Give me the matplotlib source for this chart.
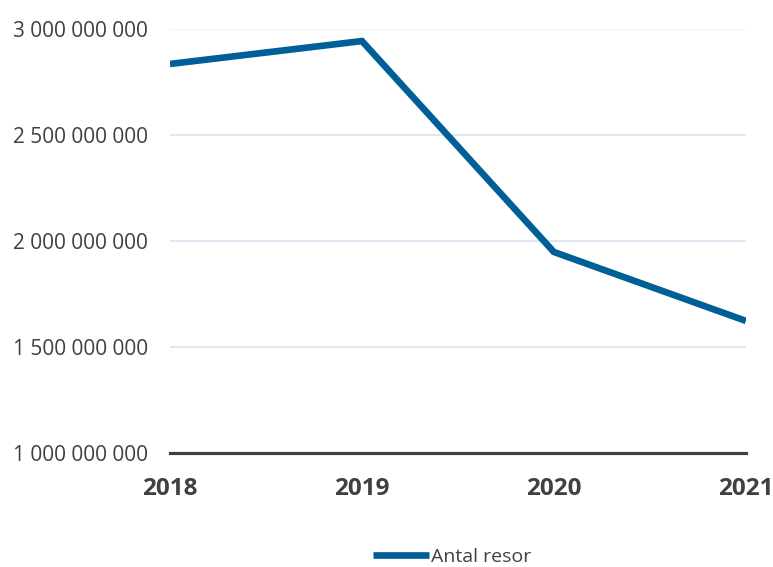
import matplotlib.pyplot as plt
from matplotlib.ticker import FuncFormatter

# data
years = [2018, 2019, 2020, 2021]
antal_resor = [2835000000, 2943000000, 1948000000, 1623000000]
y_ticks = [1000000000, 1500000000, 2000000000, 2500000000, 3000000000]
series_label = 'Antal resor'

COLORS = {
    'line': '#005F96',
    'grid': '#D9E1F2',
    'grid_top': '#EEF2F8',
    'axis': '#404040',
    'text': '#404040',
}

plt.rcParams['font.family'] = ['Open Sans', 'DejaVu Sans']

fig = plt.figure(figsize=(7.73, 5.67), dpi=100)
ax = fig.add_axes([0.2199, 0.2011, 0.745, 0.7478])

ax.plot(years, antal_resor, color=COLORS['line'], linewidth=4.8,
        solid_joinstyle='miter', solid_capstyle='butt', label=series_label)

ax.set_xlim(years[0], years[-1])
ax.set_ylim(y_ticks[0], y_ticks[-1])
ax.set_xticks(years)
ax.set_yticks(y_ticks)
ax.yaxis.set_major_formatter(FuncFormatter(lambda v, p: f'{int(v):,}'.replace(',', ' ')))

for lab in ax.get_xticklabels():
    lab.set_fontweight('bold')
ax.tick_params(axis='x', length=0, pad=17, labelsize=17.5, colors=COLORS['text'])
ax.tick_params(axis='y', length=0, pad=16, labelsize=15, colors=COLORS['text'])

ax.grid(axis='y', color=COLORS['grid'], linewidth=1.2)
ax.get_ygridlines()[-1].set_color(COLORS['grid_top'])
ax.set_axisbelow(True)

for side in ['top', 'right', 'left']:
    ax.spines[side].set_visible(False)
ax.spines['bottom'].set_color(COLORS['axis'])
ax.spines['bottom'].set_linewidth(2.3)

leg = fig.legend(loc='center', bbox_to_anchor=(0.585, 0.0176), frameon=False,
                 fontsize=14, handlelength=2.9, handletextpad=0.1)
for t in leg.get_texts():
    t.set_color(COLORS['text'])

fig.savefig('out.png', dpi=100, facecolor='white')
